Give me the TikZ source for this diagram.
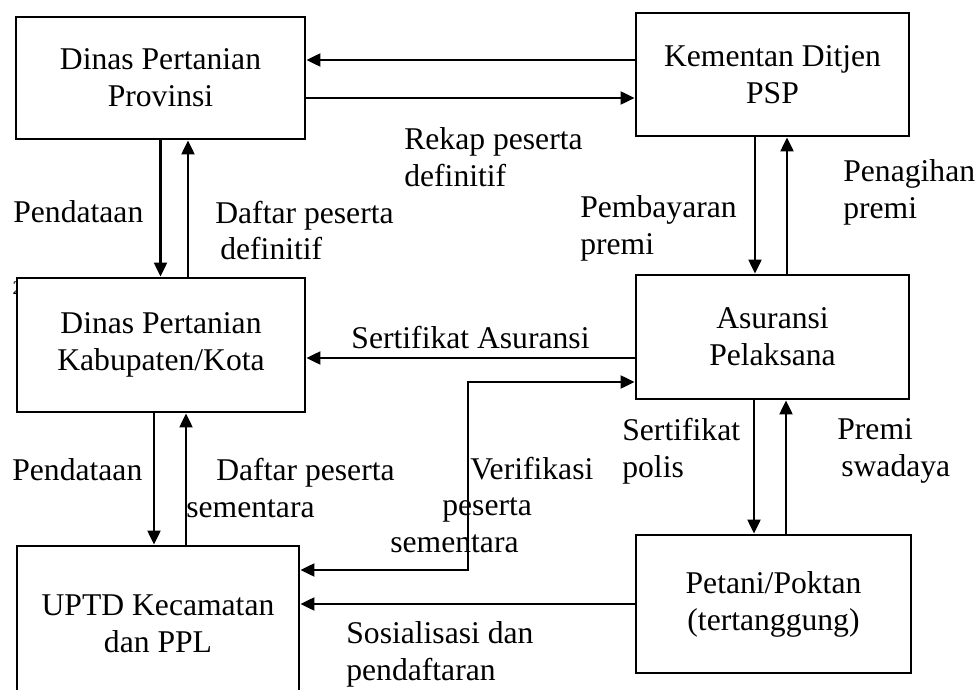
\documentclass[tikz,border=0pt]{standalone}
\usepackage{fontspec}
\setmainfont{Liberation Serif}
\usetikzlibrary{arrows.meta, positioning, calc}
\tikzset{
    box_unit/.style={
        rectangle, draw=black, line width=1.7pt, fill=white,
        minimum width=5.5cm, minimum height=2.5cm,
        align=center, font=\fontsize{18}{21}\selectfont
    },
    flow_arrow/.style={
        -{Triangle[length=0.28cm, width=0.26cm]}, line width=1.4pt, draw=black
    },
    flow_both/.style={
        {Triangle[length=0.28cm, width=0.26cm]}-{Triangle[length=0.28cm, width=0.26cm]},
        line width=1.4pt, draw=black
    },
    flow_tag/.style={
        font=\fontsize{18}{21}\selectfont, align=left, inner sep=0pt
    },
    note_text/.style={
        font=\fontsize{18}{21}\selectfont, align=left, inner sep=0pt, anchor=west
    }
}

\begin{document}
\begin{tikzpicture}

    \useasboundingbox (0,0) rectangle (19.56,-13.80);

    % --- stray page mark behind the district box ---
    \node[font=\fontsize{11}{13}\selectfont, inner sep=0pt] (pgmark) at (0.35,-5.77) {2};

    % --- Row 1: Provinsi & Kementan ---
    \node[box_unit, minimum width=5.78cm, minimum height=2.44cm] (prov) at (3.21,-1.56) {Dinas Pertanian\\Provinsi};
    \node[box_unit, minimum width=5.46cm, minimum height=2.46cm] (kem) at (15.45,-1.49) {Kementan Ditjen\\PSP};

    % --- Row 2: Kabupaten & Asuransi ---
    \node[box_unit, minimum width=5.76cm, minimum height=2.68cm] (kab) at (3.22,-6.90) {Dinas Pertanian\\Kabupaten/Kota};
    \node[box_unit, minimum width=5.46cm, minimum height=2.48cm] (asu) at (15.45,-6.74) {Asuransi\\Pelaksana};

    % --- Row 3: UPTD & Petani ---
    \node[box_unit, minimum width=5.64cm, minimum height=3.12cm] (uptd) at (3.16,-12.48) {UPTD Kecamatan\\dan PPL};
    \node[box_unit, minimum width=5.50cm, minimum height=2.76cm] (pet) at (15.47,-12.08) {Petani/Poktan\\(tertanggung)};

    % =========================================================================
    % FLOW ARROWS
    % =========================================================================
    % 1. Provinsi <-> Kementan (horizontal pair)
    \draw[flow_arrow] ([yshift=0.29cm]kem.west) -- ([yshift=0.29cm]kem.west -| prov.east);
    \draw[flow_arrow] ([yshift=-0.40cm]prov.east) -- ([yshift=-0.40cm]prov.east -| kem.west);

    % 2. Provinsi <-> Kabupaten (vertical pair)
    \draw[flow_arrow] (prov.south) -- (prov.south |- kab.north);
    \draw[flow_arrow] ([xshift=0.54cm]kab.north) -- ([xshift=0.54cm]kab.north |- prov.south);

    % 3. Kementan <-> Asuransi (vertical pair)
    \draw[flow_arrow] ([xshift=-0.35cm]kem.south) -- ([xshift=-0.35cm]kem.south |- asu.north);
    \draw[flow_arrow] ([xshift=0.29cm]asu.north) -- ([xshift=0.29cm]asu.north |- kem.south);

    % 4. Asuransi -> Kabupaten
    \draw[flow_arrow] ([yshift=-0.42cm]asu.west) -- node[flow_tag, above=0.16cm] {Sertifikat Asuransi} ([yshift=-0.42cm]asu.west -| kab.east);

    % 5. UPTD <-> Asuransi (elbow)
    \coordinate (vcorner) at (9.36,-7.64);
    \draw[flow_both] ([yshift=1.08cm]uptd.east) -| (vcorner) -- (vcorner -| asu.west);

    % 6. Kabupaten <-> UPTD (vertical pair)
    \draw[flow_arrow] ([xshift=-0.14cm]kab.south) -- ([xshift=-0.14cm]kab.south |- uptd.north);
    \draw[flow_arrow] ([xshift=0.50cm]kab.south |- uptd.north) -- ([xshift=0.50cm]kab.south);

    % 7. Asuransi <-> Petani (vertical pair)
    \draw[flow_arrow] ([xshift=-0.37cm]asu.south) -- ([xshift=-0.37cm]asu.south |- pet.north);
    \draw[flow_arrow] ([xshift=0.27cm]asu.south |- pet.north) -- ([xshift=0.27cm]asu.south);

    % 8. Petani -> UPTD
    \draw[flow_arrow] (pet.west) -- (pet.west -| uptd.east);

    % =========================================================================
    % LABELS
    % =========================================================================
    \node[note_text] (l_rekap) at (8.08,-3.14) {Rekap peserta\\definitif};
    \node[note_text] (l_data1) at (0.26,-4.24) {Pendataan};
    \node[note_text] (l_def) at (4.30,-4.61) {Daftar peserta\\\hspace*{0.1cm}definitif};
    \node[note_text] (l_bayar) at (11.60,-4.56) {Pembayaran\\premi};
    \node[note_text] (l_tagih) at (16.86,-3.84) {Penagihan\\premi};
    \node[note_text] (l_verif) at (7.80,-10.10) {\hspace*{1.60cm}Verifikasi\\\hspace*{1.04cm}peserta\\sementara};
    \node[note_text] (l_data2) at (0.24,-9.40) {Pendataan};
    \node[note_text] (l_sem) at (3.72,-9.76) {\hspace*{0.60cm}Daftar peserta\\sementara};
    \node[note_text] (l_polis) at (12.44,-9.02) {Sertifikat\\polis};
    \node[note_text] (l_swa) at (16.74,-9.02) {Premi\\\hspace*{0.08cm}swadaya};
    \node[note_text] (l_sos) at (6.92,-13.08) {Sosialisasi dan\\pendaftaran};

\end{tikzpicture}
\end{document}
